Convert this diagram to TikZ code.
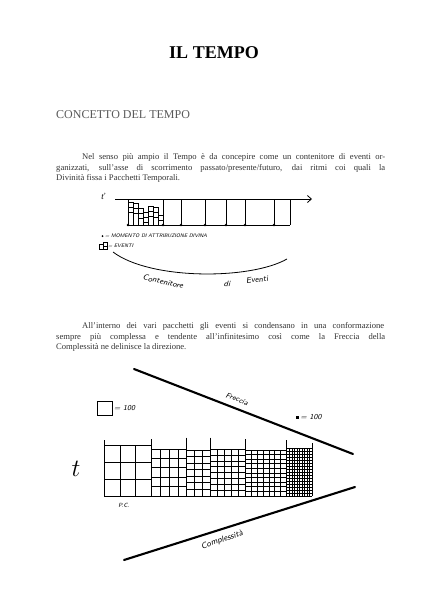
\documentclass[tikz,border=0pt]{standalone}
\usepackage{fontspec}
\setmainfont{Liberation Serif}
\usetikzlibrary{arrows.meta}
\begin{document}
\begin{tikzpicture}[x=1pt,y=-1pt,
  body/.style={anchor=base west,inner sep=0pt,font=\fontsize{8.6}{10}\selectfont,text=black!80},
  hand/.style={inner sep=0pt,text=black},
  handfont/.style={font=\sffamily\itshape\fontsize{#1}{#1}\selectfont},
  thickline/.style={line width=2.1pt,line cap=round},
  gridline/.style={line width=#1},
  axisline/.style={line width=0.8pt},
]
\useasboundingbox (0,0) rectangle (421,600);
% titles
\node[anchor=base,inner sep=0pt,font=\fontsize{18}{20}\selectfont\bfseries] (title) at (214,58) {IL TEMPO};
\node[anchor=base west,inner sep=0pt,font=\fontsize{12}{14}\selectfont,text=black!65] (sect) at (56,118) {CONCETTO DEL TEMPO};
% paragraph 1
\node[body] (p1a) at (82,159.5) {\makebox[303pt][s]{Nel senso più ampio il Tempo è da concepire come un contenitore di eventi or-}};
\node[body] (p1b) at (56,170) {\makebox[329pt][s]{ganizzati, sull'asse di scorrimento passato/presente/futuro, dai ritmi coi quali la}};
\node[body] (p1c) at (56,180.5) {Divinità fissa i Pacchetti Temporali.};
% diagram 1
\node[hand,font=\itshape\fontsize{9}{9}\selectfont] (t1) at (103,196.5) {ť};
\coordinate (ax0) at (115,199);
\coordinate (ax1) at (312,199);
\draw[axisline,-{Straight Barb[length=4pt,width=7pt]}] (ax0) -- (ax1);
\coordinate (bx0) at (127,225);
\coordinate (bx1) at (290,225);
\draw[line width=0.7pt] (bx0) -- (bx1);
\foreach \x in {128,163,181,205,226,245,274,290}{
  \draw[line width=0.7pt] (\x,199) -- (\x,225);
}
\foreach \x in {128,163,181,205,226,245,274}{
  \fill (\x,225) circle (1.3);
}
\foreach \x/\t in {128/202,133/203,138/208,143/212,148/206,153/207,158/215}{
  \draw[line width=0.4pt] (\x,\t) rectangle ({\x+5},225);
  \draw[line width=0.4pt] (\x,{\t+5}) -- ({\x+5},{\t+5});
  \draw[line width=0.4pt] (\x,{min(\t+10,225)}) -- ({\x+5},{min(\t+10,225)});
}
% legend 1
\fill (102.5,236) circle (1);
\node[hand,handfont=5.1,anchor=west] (leg1) at (105,236) {= MOMENTO DI ATTRIBUZIONE DIVINA};
\draw[line width=0.4pt] (99.5,244.5) rectangle (103,249.5);
\draw[line width=0.4pt] (103,242.5) rectangle (107,249.5);
\draw[line width=0.4pt] (103,246) -- (107,246);
\node[hand,handfont=5.1,anchor=west] (leg2) at (108,246) {= EVENTI};
% container arc
\coordinate (c0) at (113,252);
\coordinate (c1) at (287,259);
\draw[axisline] (c0) .. controls (150,280) and (250,280) .. (c1);
\node[hand,handfont=8,rotate=-12] (ce1) at (163,281.5) {Contenitore};
\node[hand,handfont=8,rotate=-3] (ce2) at (227,284) {di};
\node[hand,handfont=8,rotate=7] (ce3) at (257,279.5) {Eventi};
% paragraph 2
\node[body] (p2a) at (82,328.5) {\makebox[302pt][s]{All'interno dei vari pacchetti gli eventi si condensano in una conformazione}};
\node[body] (p2b) at (56,339) {\makebox[329pt][s]{sempre più complessa e tendente all'infinitesimo così come la Freccia della}};
\node[body] (p2c) at (56,349.5) {Complessità ne delinisce la direzione.};
% diagram 2: arrow of complexity
\coordinate (u0) at (134,369);
\coordinate (u1) at (353,454);
\coordinate (l0) at (124,560);
\coordinate (l1) at (355,487);
\draw[thickline] (u0) -- (u1);
\draw[thickline] (l0) -- (l1);
\node[hand,handfont=7.5,rotate=-21] (fr) at (237,399) {Freccia};
\node[hand,handfont=8.5,rotate=19] (co) at (222,540) {Complessità};
% legends 2
\draw[line width=0.7pt] (97,401) rectangle (112,415);
\node[hand,handfont=7.5,anchor=west] (sq100) at (114,408) {= 100};
\fill (296,416) rectangle (299,419);
\node[hand,handfont=7.5,anchor=west] (dot100) at (300.5,417.5) {= 100};
\node[hand,font=\fontsize{24}{24}\selectfont] (t2) at (76,469) {$t$};
\node[hand,handfont=6] (pc) at (124,505) {P.C.};
% grid packets
\foreach \x/\tp in {104/440,151.7/439,186.7/437.7,210/437.7,245/439,286.7/440,312.3/443}{
  \draw[line width=1pt] (\x,\tp) -- (\x,496);
}
\draw[line width=1pt] (104,496) -- (312.3,496);
\foreach \xa/\xb/\yt/\nc/\nr/\lw in {104/151.7/445/3/3/0.8pt, 151.7/186.7/449/4/5/0.75pt, 186.7/210/450/3/7/0.75pt, 210/245/449.3/5/8/0.7pt, 245/286.7/450/7/10/0.65pt, 286.7/312.3/448.3/10/16/0.5pt}{
  \draw[gridline=\lw] (\xa,\yt) -- (\xb,\yt);
  \pgfmathtruncatemacro\ncm{\nc-1}
  \pgfmathtruncatemacro\nrm{\nr-1}
  \foreach \i in {1,...,\ncm}{
    \draw[gridline=\lw] ({\xa+(\xb-\xa)*\i/\nc},\yt) -- ({\xa+(\xb-\xa)*\i/\nc},496);
  }
  \foreach \j in {1,...,\nrm}{
    \draw[gridline=\lw] (\xa,{\yt+(496-\yt)*\j/\nr}) -- (\xb,{\yt+(496-\yt)*\j/\nr});
  }
}
\end{tikzpicture}
\end{document}
